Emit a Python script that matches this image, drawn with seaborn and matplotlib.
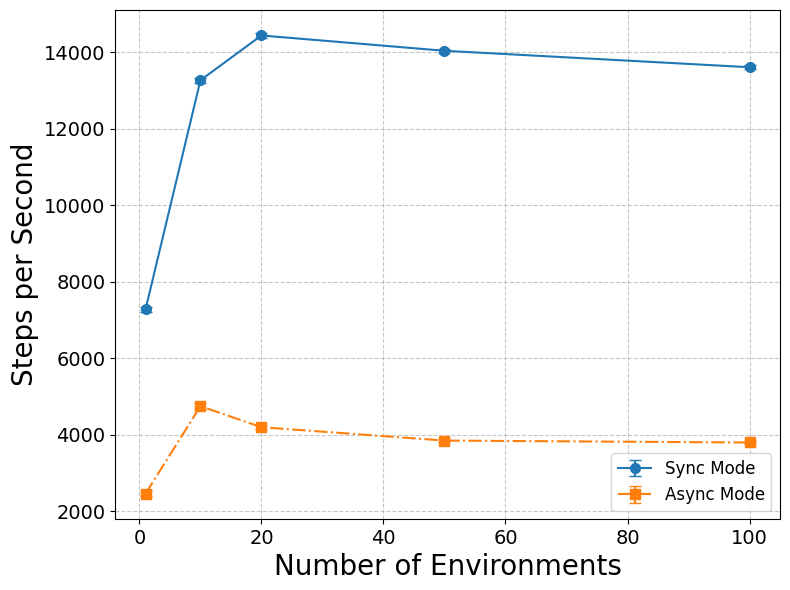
import matplotlib
matplotlib.use("Agg")
import matplotlib.pyplot as plt
import seaborn as sns

num_envs = [1, 10, 20, 50, 100]
sync_sps = [7280, 13270, 14440, 14040, 13610]
sync_err = [60, 70, 60, 50, 50]
async_sps = [2460, 4750, 4200, 3850, 3800]
async_err = [60, 70, 50, 50, 50]

colors = sns.color_palette("tab10")

fig, ax = plt.subplots(figsize=(7.9, 5.9), dpi=100)
ax.errorbar(num_envs, sync_sps, yerr=sync_err, fmt='-o', color=colors[0],
            capsize=4, markersize=7, linewidth=1.5, label='Sync Mode')
ax.errorbar(num_envs, async_sps, yerr=async_err, fmt='-.s', color=colors[1],
            capsize=4, markersize=7, linewidth=1.5, label='Async Mode')

ax.set_xlabel('Number of Environments', fontsize=20)
ax.set_ylabel('Steps per Second', fontsize=20)
ax.tick_params(labelsize=14)
ax.grid(True, linestyle='--', alpha=0.7)
ax.legend(fontsize=12, loc='lower right')

fig.subplots_adjust(left=0.146, right=0.987, top=0.983, bottom=0.12)
plt.savefig('out.png')
